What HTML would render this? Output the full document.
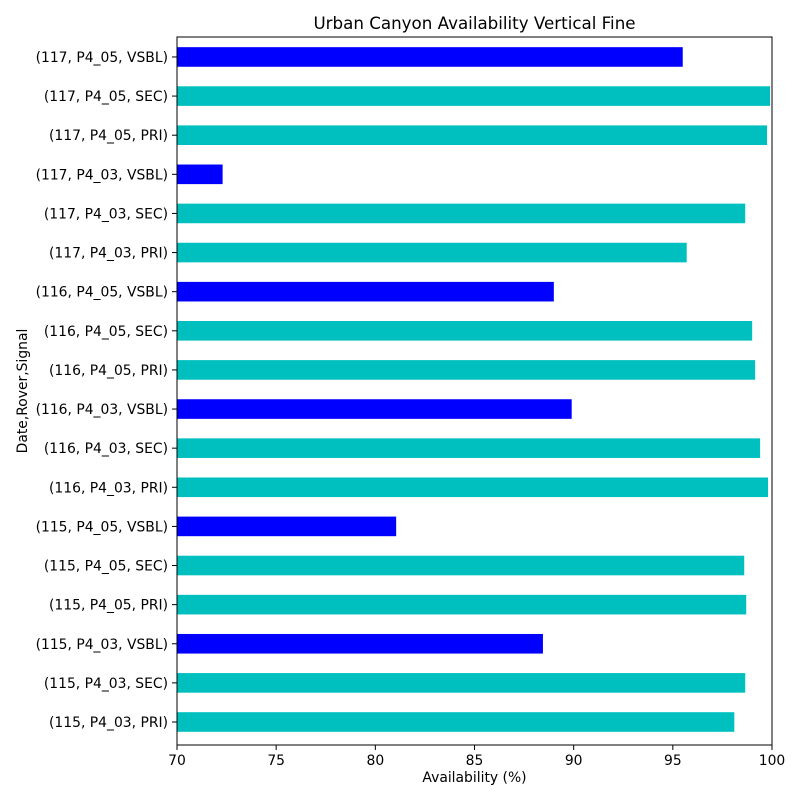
<!DOCTYPE html>
<html><head><meta charset="utf-8"><style>body{margin:0;background:#fff}svg{display:block}text{font-family:"DejaVu Sans","Liberation Sans",sans-serif;fill:#000}</style></head><body>
<svg width="800" height="800" xmlns="http://www.w3.org/2000/svg">
<rect width="800" height="800" fill="#fff"/>
<text x="474.5" y="29" font-size="16.7" text-anchor="middle">Urban Canyon Availability Vertical Fine</text>
<g id="bars"></g>
<rect x="177" y="37" width="595" height="708" fill="none" stroke="#000" stroke-width="1"/>
<g id="ticks" font-size="13.9"></g>
<text x="474.5" y="782" font-size="13.9" text-anchor="middle">Availability (%)</text>
<text transform="translate(27,391) rotate(-90)" font-size="13.9" text-anchor="middle">Date,Rover,Signal</text>
</svg>
<script>
const data=[["(115, P4_03, PRI)",98.1],["(115, P4_03, SEC)",98.65],["(115, P4_03, VSBL)",88.45],["(115, P4_05, PRI)",98.7],["(115, P4_05, SEC)",98.6],["(115, P4_05, VSBL)",81.05],["(116, P4_03, PRI)",99.8],["(116, P4_03, SEC)",99.4],["(116, P4_03, VSBL)",89.9],["(116, P4_05, PRI)",99.15],["(116, P4_05, SEC)",99.0],["(116, P4_05, VSBL)",89.0],["(117, P4_03, PRI)",95.7],["(117, P4_03, SEC)",98.65],["(117, P4_03, VSBL)",72.3],["(117, P4_05, PRI)",99.75],["(117, P4_05, SEC)",99.9],["(117, P4_05, VSBL)",95.5]];
const ns="http://www.w3.org/2000/svg";
const b=document.getElementById("bars"),t=document.getElementById("ticks");
const X=v=>177+(v-70)*595/30;
function el(n,a,p,txt){const e=document.createElementNS(ns,n);for(const k in a)e.setAttribute(k,a[k]);if(txt)e.textContent=txt;p.appendChild(e);}
data.forEach((d,i)=>{const cy=722-i*39.12;
el("rect",{x:177,y:cy-9.8,width:X(d[1])-177,height:19.6,fill:d[0].includes("VSBL")?"#0000ff":"#00bfbf"},b);
el("line",{x1:172,x2:177,y1:cy,y2:cy,stroke:"#000"},t);
el("text",{x:168,y:cy+5,"text-anchor":"end"},t,d[0]);});
for(let v=70;v<=100;v+=5){const x=X(v);
el("line",{x1:x,x2:x,y1:745,y2:750,stroke:"#000"},t);
el("text",{x:x,y:765,"text-anchor":"middle"},t,String(v));}
</script>
</body></html>
